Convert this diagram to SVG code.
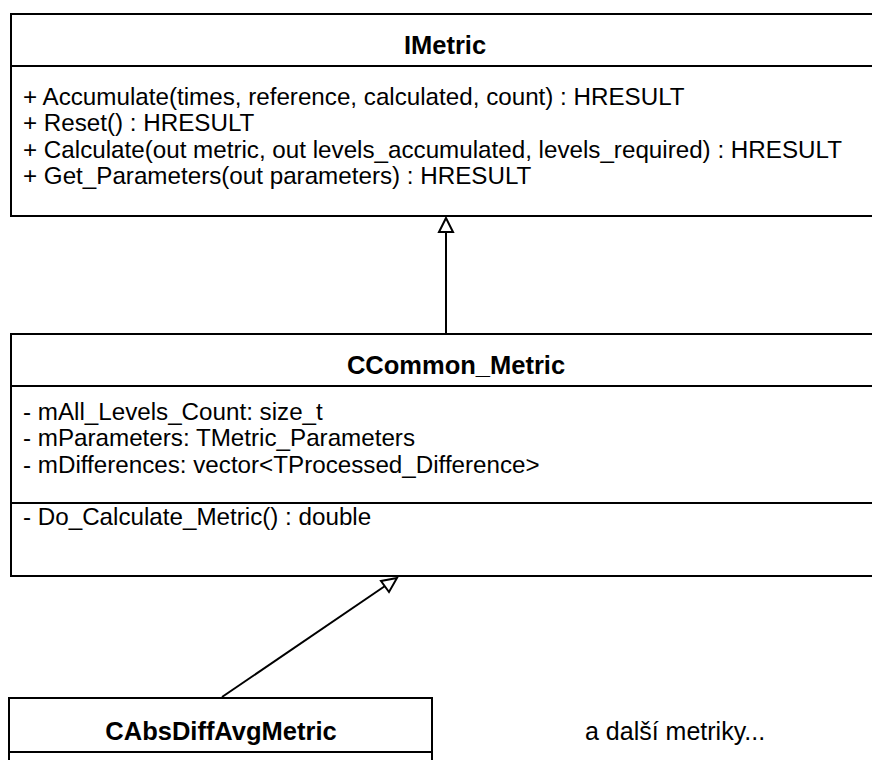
<svg xmlns="http://www.w3.org/2000/svg" width="872" height="760" viewBox="0 0 872 760">
<defs>
<style>
.box{fill:#fff;stroke:#000;stroke-width:2}
.sep{stroke:#000;stroke-width:2;fill:none}
.title{font-family:"Liberation Sans",Arial,sans-serif;font-weight:bold;font-size:25.5px;text-anchor:middle;fill:#000}
.txt{font-family:"Liberation Sans",Arial,sans-serif;font-size:24.2px;fill:#000}
.lbl{font-family:"Liberation Sans",Arial,sans-serif;font-size:25px;fill:#000}
.edge{stroke:#000;stroke-width:2;fill:none}
.head{fill:#fff;stroke:#000;stroke-width:2}
</style>
</defs>
<rect width="872" height="760" fill="#fff"/>
<g id="connectors">
<line class="edge" x1="446" y1="334" x2="446" y2="231"/>
<polygon class="head" points="446,218 439,232 453,232"/>
<line class="edge" x1="222" y1="697" x2="385" y2="586"/>
<polygon class="head" points="397,578 381,581 389,592"/>
</g>
<g id="IMetric">
<rect class="box" x="11" y="14" width="872" height="202"/>
<line class="sep" x1="11" y1="66" x2="883" y2="66"/>
<text class="title" x="445" y="54">IMetric</text>
<text class="txt" x="23" y="105">+ Accumulate(times, reference, calculated, count) : HRESULT</text>
<text class="txt" x="23" y="131">+ Reset() : HRESULT</text>
<text class="txt" x="23" y="158">+ Calculate(out metric, out levels_accumulated, levels_required) : HRESULT</text>
<text class="txt" x="23" y="184">+ Get_Parameters(out parameters) : HRESULT</text>
</g>
<g id="CCommon_Metric">
<rect class="box" x="11" y="334" width="872" height="242"/>
<line class="sep" x1="11" y1="386" x2="883" y2="386"/>
<line class="sep" x1="11" y1="503" x2="883" y2="503"/>
<text class="title" x="456" y="374">CCommon_Metric</text>
<text class="txt" x="23" y="420">- mAll_Levels_Count: size_t</text>
<text class="txt" x="23" y="446">- mParameters: TMetric_Parameters</text>
<text class="txt" x="23" y="473">- mDifferences: vector&lt;TProcessed_Difference&gt;</text>
<text class="txt" x="23" y="525">- Do_Calculate_Metric() : double</text>
</g>
<g id="CAbsDiffAvgMetric">
<rect class="box" x="9" y="698" width="423" height="80"/>
<line class="sep" x1="9" y1="752" x2="432" y2="752"/>
<text class="title" x="221" y="740">CAbsDiffAvgMetric</text>
</g>
<g id="note">
<text class="lbl" x="585" y="740">a další metriky...</text>
</g>
</svg>
